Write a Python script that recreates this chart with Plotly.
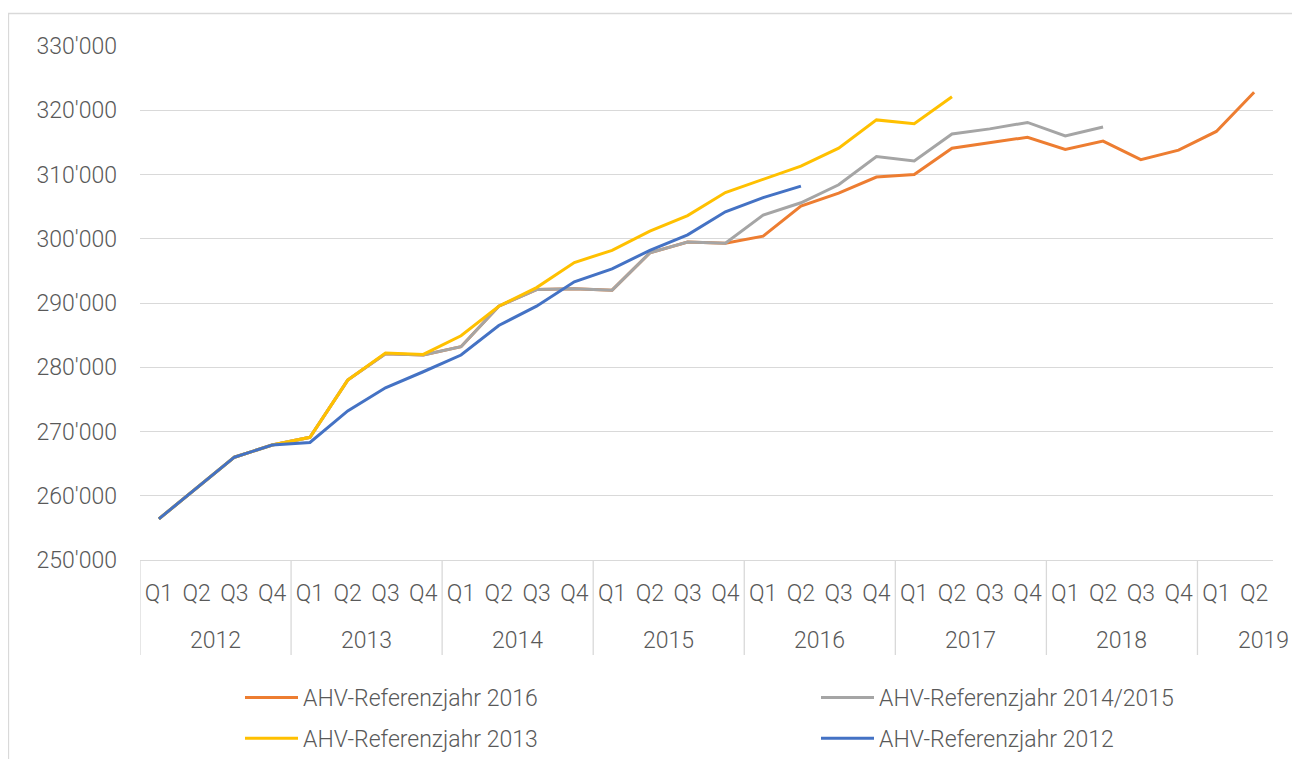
import plotly.graph_objects as go

# ---- data ----
years = ["2012", "2013", "2014", "2015", "2016", "2017", "2018", "2019"]
quarters = ["Q1", "Q2", "Q3", "Q4"] * 7 + ["Q1", "Q2"]

ref_2016 = [256400, 261200, 266000, 267900, 269100, 278000, 282100, 281900,
            283200, 289500, 292100, 292200, 292000, 297800, 299500, 299300,
            300400, 305100, 307100, 309600, 310000, 314100, 314900, 315800,
            313900, 315200, 312300, 313800, 316700, 322800]
ref_2014_2015 = [256400, 261200, 266000, 267900, 269100, 278000, 282100, 281900,
                 283200, 289500, 292100, 292200, 292000, 297800, 299500, 299300,
                 303700, 305600, 308400, 312800, 312100, 316300, 317100, 318100,
                 316000, 317400, None, None, None, None]
ref_2013 = [256400, 261200, 266000, 267900, 269100, 278000, 282200, 282000,
            284900, 289500, 292400, 296300, 298200, 301200, 303600, 307200,
            309300, 311300, 314100, 318500, 317900, 322100,
            None, None, None, None, None, None, None, None]
ref_2012 = [256400, 261200, 266000, 267900, 268300, 273200, 276800, 279300,
            281900, 286500, 289500, 293300, 295300, 298200, 300600, 304200,
            306400, 308200,
            None, None, None, None, None, None, None, None, None, None, None, None]

series_names = ["AHV-Referenzjahr 2016", "AHV-Referenzjahr 2014/2015",
                "AHV-Referenzjahr 2013", "AHV-Referenzjahr 2012"]
y_ticks = [250000, 260000, 270000, 280000, 290000, 300000, 310000, 320000, 330000]
y_ticktext = ["250'000", "260'000", "270'000", "280'000", "290'000",
              "300'000", "310'000", "320'000", "330'000"]

# ---- layout geometry (page body has an 8px margin on every side) ----
OFF = 8
W, H = 1300 - 2 * OFF, 767 - 2 * OFF
L = 140 - OFF
T = 46 - OFF
PLOT_BOTTOM = 560 - OFF
PLOT_RIGHT = 1273 - OFF
R = W - PLOT_RIGHT
B = H - PLOT_BOTTOM
PW = W - L - R
PH = H - T - B


def px_x(px):
    """reference-screen x pixel -> paper coordinate"""
    return (px - OFF - L) / PW


def px_y(py):
    """reference-screen y pixel -> paper coordinate"""
    return (PLOT_BOTTOM - (py - OFF)) / PH


FONT = "Roboto"
TXT = "#595959"
GRID = "#d9d9d9"
FS = 23

colors = ["#ED7D31", "#A5A5A5", "#FFC000", "#4472C4"]
data = [ref_2016, ref_2014_2015, ref_2013, ref_2012]
legends = ["legend", "legend2", "legend", "legend2"]

xs = list(range(len(quarters)))

fig = go.Figure()
for name, vals, col, lg in zip(series_names, data, colors, legends):
    fig.add_trace(go.Scatter(
        x=xs, y=vals, name=name, mode="lines",
        line=dict(color=col, width=3),
        legend=lg, legendgroup=name,
        connectgaps=False,
        hoverinfo="skip",
    ))

# year separator lines and year labels
shapes = []
for k in range(len(years)):
    xsep = -0.5 + 4 * k
    shapes.append(dict(type="line", xref="x", yref="paper",
                       x0=xsep, x1=xsep, y0=0, y1=px_y(655),
                       line=dict(color=GRID, width=1.3), layer="below"))

annotations = []
for k, yr in enumerate(years):
    last = k == len(years) - 1
    annotations.append(dict(x=px_x(1291) if last else 1.5 + 4 * k,
                            xref="paper" if last else "x",
                            y=px_y(640), yref="paper",
                            text=yr, showarrow=False,
                            xanchor="right" if last else "center",
                            yanchor="middle",
                            font=dict(family=FONT, size=FS, color=TXT, weight=300)))

# chart border
shapes.append(dict(type="rect", xref="paper", yref="paper",
                   x0=px_x(8.5), x1=px_x(1400), y0=px_y(900), y1=px_y(13.5),
                   line=dict(color=GRID, width=1.3), fillcolor="rgba(0,0,0,0)",
                   layer="below"))

legend_common = dict(
    orientation="v", xanchor="left", yanchor="top",
    font=dict(family=FONT, size=FS, color=TXT, weight=300),
    bgcolor="rgba(0,0,0,0)", itemwidth=53, tracegroupgap=8,
    itemclick=False, itemdoubleclick=False,
)

fig.update_layout(
    width=W, height=H,
    margin=dict(l=L, r=R, t=T, b=B, autoexpand=False),
    paper_bgcolor="white", plot_bgcolor="white",
    font=dict(family=FONT, size=FS, color=TXT, weight=300),
    showlegend=True,
    legend=dict(x=px_x(240), y=px_y(676), **legend_common),
    legend2=dict(x=px_x(816), y=px_y(676), **legend_common),
    xaxis=dict(
        range=[-0.5, len(quarters) - 0.5],
        tickmode="array", tickvals=xs, ticktext=quarters,
        showgrid=False, zeroline=False,
        showline=True, linecolor=GRID, linewidth=1.3,
        ticks="", ticklabelstandoff=12,
        tickfont=dict(family=FONT, size=FS, color=TXT, weight=300),
        automargin=False, fixedrange=True,
    ),
    yaxis=dict(
        range=[250000, 330000],
        tickmode="array", tickvals=y_ticks, ticktext=y_ticktext,
        showgrid=True, gridcolor=GRID, gridwidth=1.3,
        zeroline=False, showline=False, ticks="",
        ticklabelstandoff=22,
        tickfont=dict(family=FONT, size=FS, color=TXT, weight=300),
        automargin=False, fixedrange=True,
    ),
    shapes=shapes,
    annotations=annotations,
)

fig.write_html("out.html")
